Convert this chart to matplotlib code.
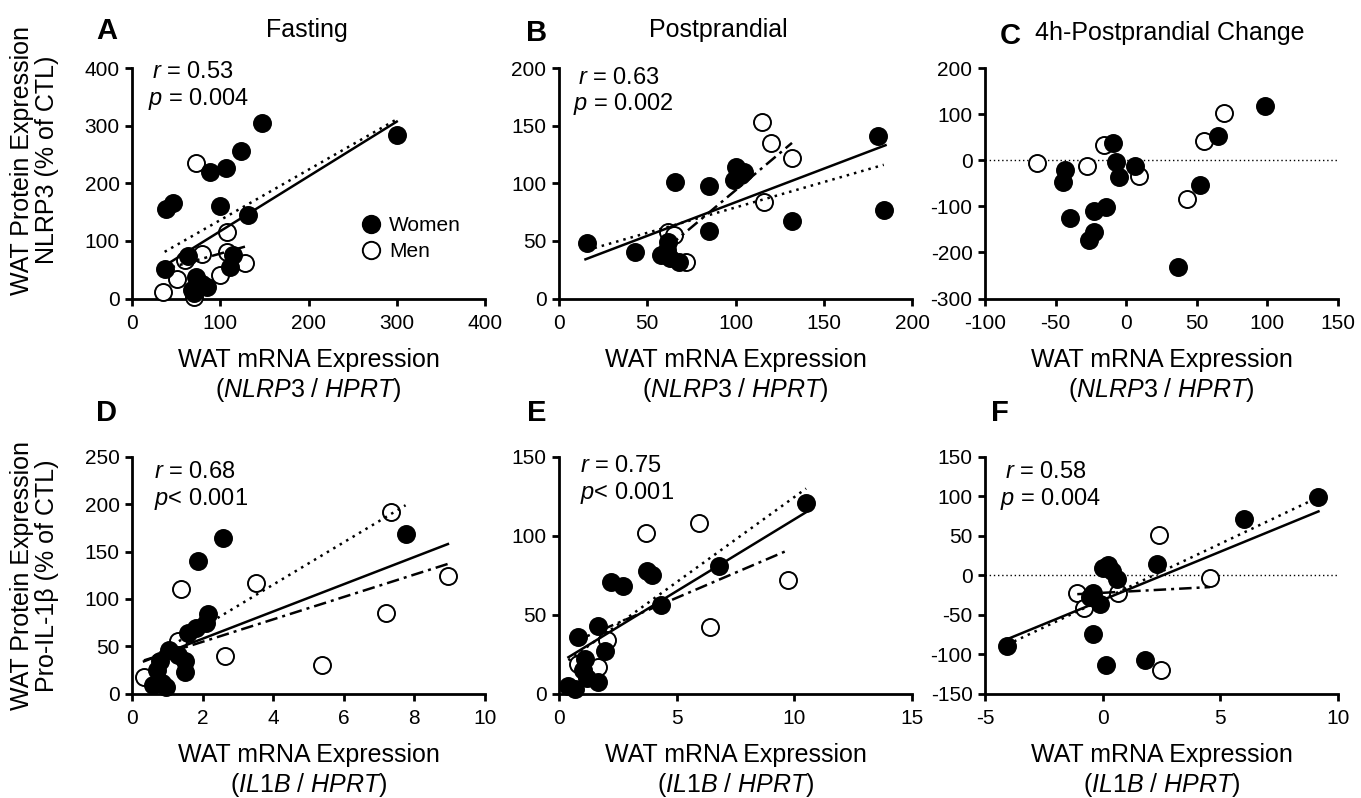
import matplotlib
matplotlib.use('Agg')
import matplotlib.pyplot as plt
from matplotlib.lines import Line2D

plt.rcParams['font.family'] = ['Liberation Sans', 'DejaVu Sans']
plt.rcParams['mathtext.fontset'] = 'custom'
plt.rcParams['mathtext.rm'] = 'Liberation Sans'
plt.rcParams['mathtext.it'] = 'Liberation Sans:italic'
plt.rcParams['mathtext.bf'] = 'Liberation Sans:bold'
plt.rcParams['axes.unicode_minus'] = False

# ---------------- data ----------------
# Panel A: Fasting NLRP3
a_women_x = [147, 123, 107, 88, 39, 47, 100, 131, 300, 37, 64, 115, 111, 72, 79, 85, 68, 70]
a_women_y = [305, 256, 226, 220, 156, 165, 160, 145, 284, 51, 73, 75, 55, 38, 26, 20, 15, 9]
a_men_x = [72, 108, 79, 108, 128, 100, 51, 35, 70, 60]
a_men_y = [235, 116, 78, 81, 61, 41, 33, 12, 3, 67]
a_fit_all = ([35, 300], [55, 307])
a_fit_women = ([37, 300], [81, 311])
a_fit_men = ([35, 128], [50, 90])

# Panel B: Postprandial NLRP3
b_women_x = [16, 43, 66, 85, 85, 100, 105, 99, 103, 132, 181, 184, 62, 58, 63, 68, 61]
b_women_y = [48, 40, 101, 98, 59, 114, 110, 103, 107, 67, 141, 77, 49, 38, 35, 32, 42]
b_men_x = [115, 120, 132, 116, 62, 65, 72]
b_men_y = [153, 135, 122, 84, 58, 55, 32]
b_fit_all = ([15, 185], [34, 133])
b_fit_women = ([16, 184], [42, 116])
b_fit_men = ([62, 132], [45, 135])

# Panel C: 4h change NLRP3
c_women_x = [98, 65, 52, 37, -9, -7, 6, -5, -43, -45, -40, -23, -14, -23, -26]
c_women_y = [118, 52, -54, -231, 37, -3, -12, -37, -21, -47, -126, -110, -102, -155, -173]
c_men_x = [-63, -28, -16, 9, 69, 55, 43]
c_men_y = [-7, -12, 33, -34, 102, 42, -85]

# Panel D: Fasting IL1B
d_women_x = [2.57, 1.87, 2.15, 2.1, 1.8, 1.6, 1.04, 1.3, 1.5, 1.5, 0.8, 0.7, 0.85, 0.6, 0.95, 7.75]
d_women_y = [164, 140, 84, 75, 69, 64, 46, 41, 34, 23, 34, 25, 11, 9, 7, 169]
d_men_x = [7.33, 3.5, 1.4, 7.2, 2.64, 5.38, 0.34, 1.3, 8.95]
d_men_y = [192, 117, 110, 85, 40, 30, 17, 55, 124]
d_fit_all = ([0.34, 8.95], [34, 158])
d_fit_women = ([0.6, 7.75], [39, 199])
d_fit_men = ([0.34, 8.95], [35, 137])

# Panel E: Postprandial IL1B
e_women_x = [10.5, 6.8, 4.33, 3.73, 3.94, 2.2, 2.73, 1.67, 0.82, 1.95, 1.1, 1.0, 1.67, 0.4, 1.2, 0.7]
e_women_y = [121, 81, 56, 78, 75, 71, 68, 43, 36, 27, 22, 15, 7, 5, 10, 3]
e_men_x = [5.95, 3.68, 9.75, 6.4, 2.03, 1.65, 0.82]
e_men_y = [108, 102, 72, 42, 34, 17, 19]
e_fit_all = ([0.4, 10.5], [23, 115])
e_fit_women = ([0.4, 10.5], [21, 130])
e_fit_men = ([0.82, 9.75], [34, 91])

# Panel F: 4h change IL1B
f_women_x = [9.17, 6.0, 2.32, 0.24, 0.4, 0.6, 0.03, -0.4, -0.1, -0.54, -0.42, 0.14, 1.8, -4.05]
f_women_y = [99, 71, 14, 13, 5, -5, 9, -23, -36, -27, -75, -114, -107, -90]
f_men_x = [2.4, 4.56, -1.08, -0.8, 0.67, 2.47]
f_men_y = [51, -3, -23, -42, -23, -120]
f_fit_all = ([-4.05, 9.17], [-81, 81])
f_fit_women = ([-4.05, 9.17], [-88, 99])
f_fit_men = ([-1.08, 4.56], [-24, -15])

titles = ["Fasting", "Postprandial", "4h-Postprandial Change"]
letters = ["A", "B", "C", "D", "E", "F"]
stats = [("0.53", " = 0.004"), ("0.63", " = 0.002"), None,
         ("0.68", "< 0.001"), ("0.75", "< 0.001"), ("0.58", " = 0.004")]
xlabel_top = 'WAT mRNA Expression\n($\\mathit{NLRP3\\ /\\ HPRT}$)'
xlabel_bot = 'WAT mRNA Expression\n($\\mathit{IL1B\\ /\\ HPRT}$)'
ylabel_top = 'WAT Protein Expression\nNLRP3 (% of CTL)'
ylabel_bot = 'WAT Protein Expression\nPro-IL-1\u03b2 (% of CTL)'

# ---------------- figure ----------------
W, H = 1361, 798
fig = plt.figure(figsize=(W / 100, H / 100), dpi=100)

lefts = [132, 559, 985]
width = 353
rows = [(68, 298.5), (457, 693.5)]


def make_ax(col, row):
    t, b = rows[row]
    return fig.add_axes([lefts[col] / W, 1 - b / H, width / W, (b - t) / H])


S = 150
LW_EDGE = 1.4


def draw(ax, wx, wy, mx, my, xlim, ylim, xt, yt, fits=None, zero=False):
    if zero:
        ax.axhline(0, color='black', lw=1.0, ls=(0, (1, 2)), zorder=1)
    ax.scatter(mx, my, s=S, facecolor='white', edgecolor='black',
               linewidth=LW_EDGE, clip_on=False, zorder=3)
    ax.scatter(wx, wy, s=S, facecolor='black', edgecolor='black',
               linewidth=LW_EDGE, clip_on=False, zorder=4)
    if fits is not None:
        fa, fw, fm = fits
        ax.plot(fa[0], fa[1], color='black', lw=1.8, ls='-', zorder=5)
        ax.plot(fw[0], fw[1], color='black', lw=1.8, ls=(0, (1, 2)), zorder=5)
        ax.plot(fm[0], fm[1], color='black', lw=1.8, ls=(0, (5, 2, 1.2, 2)), zorder=5)
    ax.set_xlim(*xlim)
    ax.set_ylim(*ylim)
    ax.set_xticks(xt)
    ax.set_yticks(yt)
    for s in ['top', 'right']:
        ax.spines[s].set_visible(False)
    for s in ['left', 'bottom']:
        ax.spines[s].set_linewidth(2)
    ax.tick_params(direction='out', length=5, width=2, labelsize=15, pad=4)
    ax.tick_params(axis='x', pad=6)
    ax.patch.set_alpha(0)


axA = make_ax(0, 0)
draw(axA, a_women_x, a_women_y, a_men_x, a_men_y, (0, 400), (0, 400),
     range(0, 401, 100), range(0, 401, 100), (a_fit_all, a_fit_women, a_fit_men))
axB = make_ax(1, 0)
draw(axB, b_women_x, b_women_y, b_men_x, b_men_y, (0, 200), (0, 200),
     range(0, 201, 50), range(0, 201, 50), (b_fit_all, b_fit_women, b_fit_men))
axC = make_ax(2, 0)
draw(axC, c_women_x, c_women_y, c_men_x, c_men_y, (-100, 150), (-300, 200),
     range(-100, 151, 50), range(-300, 201, 100), None, zero=True)
axD = make_ax(0, 1)
draw(axD, d_women_x, d_women_y, d_men_x, d_men_y, (0, 10), (0, 250),
     range(0, 11, 2), range(0, 251, 50), (d_fit_all, d_fit_women, d_fit_men))
axE = make_ax(1, 1)
draw(axE, e_women_x, e_women_y, e_men_x, e_men_y, (0, 15), (0, 150),
     range(0, 16, 5), range(0, 151, 50), (e_fit_all, e_fit_women, e_fit_men))
axF = make_ax(2, 1)
draw(axF, f_women_x, f_women_y, f_men_x, f_men_y, (-5, 10), (-150, 150),
     range(-5, 11, 5), range(-150, 151, 50), (f_fit_all, f_fit_women, f_fit_men), zero=True)

axes = [axA, axB, axC, axD, axE, axF]

for i, ax in enumerate(axes):
    ax.set_xlabel(xlabel_top if i < 3 else xlabel_bot, fontsize=18, labelpad=11,
                  linespacing=1.17)
for ax, lab in [(axA, ylabel_top), (axD, ylabel_bot)]:
    ax.set_ylabel(lab, fontsize=18, labelpad=18, linespacing=1.05)
axA.yaxis.label.set_y(0.6)

# statistics text
stat_pos = [(0.057, 0.955, 0.045, 0.84), (0.054, 0.93, 0.04, 0.818), None,
            (0.062, 0.911, 0.062, 0.797), (0.06, 0.937, 0.06, 0.822),
            (0.057, 0.911, 0.042, 0.797)]
for ax, st, ps in zip(axes, stats, stat_pos):
    if st is None:
        continue
    ax.text(ps[0], ps[1], '$\\mathit{r}$ = ' + st[0], transform=ax.transAxes,
            fontsize=17, ha='left', va='baseline')
    ax.text(ps[2], ps[3], '$\\mathit{p}$' + st[1], transform=ax.transAxes,
            fontsize=17, ha='left', va='baseline')

# legend in panel A
handles = [Line2D([], [], ls='none', marker='o', markersize=12.5, markerfacecolor='black',
                  markeredgecolor='black', markeredgewidth=LW_EDGE),
           Line2D([], [], ls='none', marker='o', markersize=12.5, markerfacecolor='white',
                  markeredgecolor='black', markeredgewidth=LW_EDGE)]
axA.legend(handles, ['Women', 'Men'], loc='upper left', bbox_to_anchor=(0.648, 0.358),
           frameon=False, fontsize=15, handlelength=1.0, handletextpad=0.35,
           labelspacing=0.35, borderpad=0, borderaxespad=0)

# panel letters and titles
letter_pos = [(107, 31), (537, 33), (1010, 36), (107, 413), (537, 413), (1000, 413)]
for l, (x, y) in zip(letters, letter_pos):
    fig.text(x / W, 1 - y / H, l, fontsize=21, fontweight='bold', ha='center', va='center')

title_pos = [(307, 30, 'center'), (718, 30, 'center'), (1035, 33, 'left')]
for t, (x, y, ha) in zip(titles, title_pos):
    fig.text(x / W, 1 - y / H, t, fontsize=18, ha=ha, va='center')

fig.savefig('out.png', dpi=100)
